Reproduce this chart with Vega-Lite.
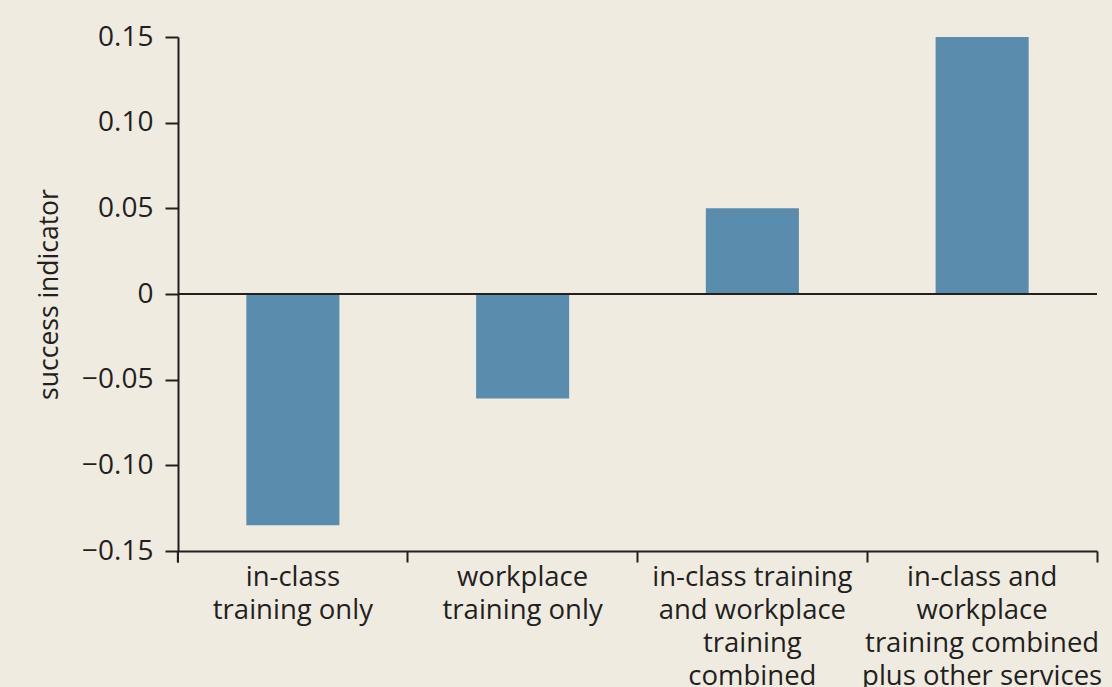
{
  "$schema": "https://vega.github.io/schema/vega-lite/v6.json",
  "width": 919,
  "height": 514,
  "autosize": {"type": "none"},
  "padding": {"left": 178, "top": 37, "right": 15, "bottom": 136},
  "background": "#EFEBE1",
  "config": {
    "view": {"stroke": null},
    "font": "Open Sans",
    "axis": {
      "domainColor": "#231F20",
      "tickColor": "#231F20",
      "labelColor": "#231F20",
      "titleColor": "#231F20",
      "domainWidth": 2,
      "tickWidth": 2,
      "grid": false
    }
  },
  "data": {
    "values": [
      {"program": "in-class|training only", "value": -0.135},
      {"program": "workplace|training only", "value": -0.061},
      {"program": "in-class training|and workplace|training|combined", "value": 0.05},
      {"program": "in-class and|workplace|training combined|plus other services", "value": 0.15}
    ]
  },
  "layer": [
    {
      "mark": {"type": "bar", "color": "#5A8CAE"},
      "encoding": {
        "x": {
          "field": "program",
          "type": "nominal",
          "sort": null,
          "scale": {"paddingInner": 0.595, "paddingOuter": 0.2975},
          "axis": {
            "title": null,
            "labelAngle": 0,
            "labelExpr": "split(datum.label, '|')",
            "labelFontSize": 27.5,
            "labelLineHeight": 33,
            "labelPadding": 1,
            "labelBaseline": "top",
            "tickSize": 11,
            "bandPosition": 1.7346,
            "labelLimit": 0
          }
        },
        "y": {
          "field": "value",
          "type": "quantitative",
          "scale": {"domain": [-0.15, 0.15], "nice": false},
          "axis": {
            "title": "success indicator",
            "titleFontSize": 26.5,
            "titleFontWeight": "normal",
            "titlePadding": 18,
            "values": [-0.15, -0.1, -0.05, 0, 0.05, 0.1, 0.15],
            "labelExpr": "datum.value == 0 ? '0' : format(datum.value, '.2f')",
            "labelFontSize": 28,
            "labelPadding": 12,
            "tickSize": 13
          }
        }
      }
    },
    {
      "mark": {"type": "rule", "color": "#231F20", "strokeWidth": 2},
      "encoding": {"y": {"datum": 0}}
    },
    {
      "mark": {"type": "rule", "color": "#231F20", "strokeWidth": 2, "clip": false},
      "encoding": {
        "x": {"datum": "in-class|training only", "type": "nominal", "bandPosition": -0.735},
        "y": {"datum": -0.15},
        "y2": {"datum": -0.1566}
      }
    }
  ]
}
